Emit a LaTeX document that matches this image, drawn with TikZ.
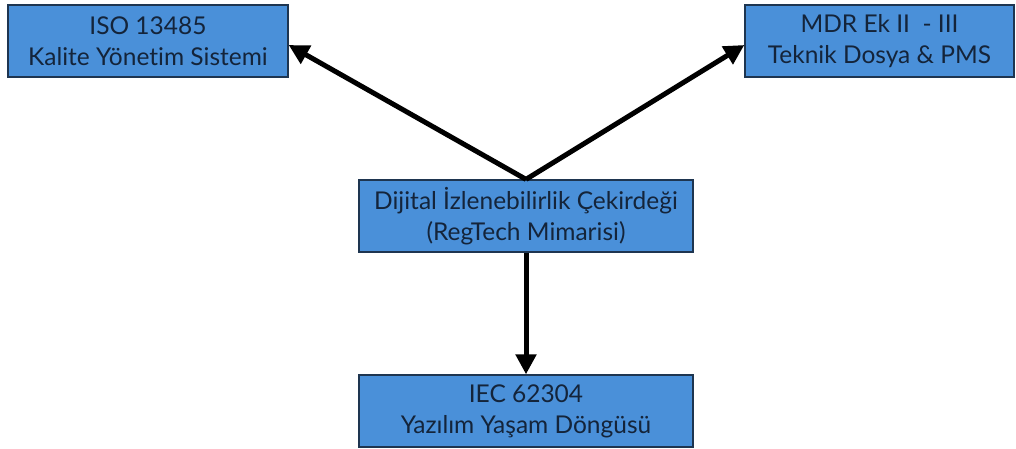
\documentclass[tikz,border=0pt]{standalone}
\usepackage{fontspec}
\setmainfont{Lato}[Ligatures={NoCommon,NoRare}]
\usetikzlibrary{arrows.meta}
\definecolor{boxfill}{HTML}{4A90D9}
\definecolor{boxline}{HTML}{1E3550}
\definecolor{boxtext}{HTML}{14243A}
\begin{document}
\begin{tikzpicture}[x=1pt,y=1pt,
  box/.style={draw=boxline, line width=1.3pt, fill=boxfill, text=boxtext,
    align=center, inner sep=0pt, font=\fontsize{24.5}{31}\selectfont},
  conn/.style={line width=5pt, draw=black, -{Triangle[length=20pt,width=20pt]}}]
\useasboundingbox (0,0) rectangle (1016,448);
\node[box, minimum width=280, minimum height=72] (tl) at (148,407) {ISO 13485\\Kalite Yönetim Sistemi};
\node[box, minimum width=269, minimum height=72] (tr) at (879.5,407) {MDR Ek II \ - III\\Teknik Dosya \& PMS};
\node[box, minimum width=334, minimum height=72] (core) at (526,232) {Dijital İzlenebilirlik Çekirdeği\\(RegTech Mimarisi)};
\node[box, minimum width=334, minimum height=72] (bot) at (526,37) {IEC 62304\\Yazılım Yaşam Döngüsü};
\draw[conn] (core.north) -- ([yshift=-4pt]tl.east);
\draw[conn] (core.north) -- ([yshift=-4pt]tr.west);
\draw[conn] (core.south) -- (bot.north);
\end{tikzpicture}
\end{document}
